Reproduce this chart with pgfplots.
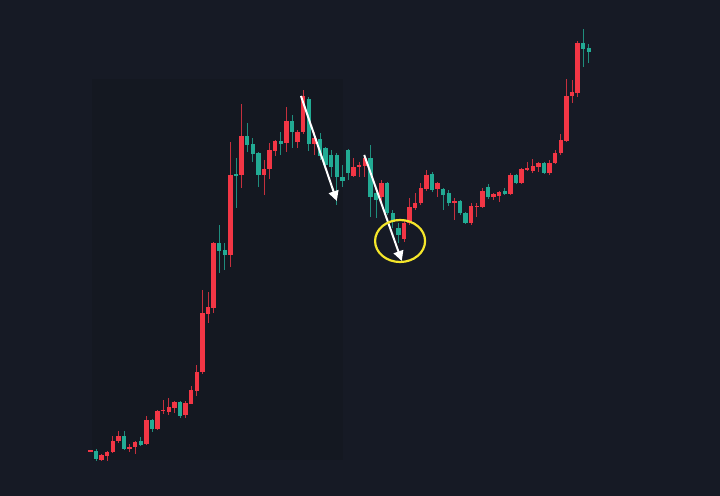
\documentclass[border=0pt]{standalone}
\usepackage{pgfplots}
\usepackage{pgfplotstable}
\pgfplotsset{compat=1.18}
\usetikzlibrary{arrows.meta}

\definecolor{bgc}{HTML}{161A25}
\definecolor{panelc}{HTML}{141821}
\definecolor{upc}{HTML}{F23645}
\definecolor{dnc}{HTML}{22AB94}
\definecolor{hilite}{HTML}{F5E62A}

% candle index, open, high, low, close (price in chart units)
\pgfplotstableread{
i  o   h   l   c
-1 45  46  45  45.8
1  36  42  35  41
2  40  45  35  44
3  44  60  43  55
4  55  65  53  60
6  47  52  44  49
7  49  55  42  54
9  52  80  51  76
11 67  86  66  85
12 85  96  82  86
13 84  98  81  89
14 88  95  83  94
16 81  95  78  93
17 92  110 92  106
18 105 131 100 124
19 124 206 122 183
20 182 204 173 189
21 188 254 183 253
24 241 354 229 321
26 321 392 308 360
30 321 336 301 327
31 327 353 317 346
32 345 356 340 355
34 353 389 344 375
36 354 366 348 364
37 364 406 362 400
39 352 364 341 358
46 320 338 319 329
47 329 334 319 331
48 330 341 319 338
51 299 316 291 313
55 257 276 254 273
56 273 298 271 289
57 288 303 286 293
58 293 313 291 308
59 307 326 305 321
61 307 314 299 313
64 293 298 276 295
67 273 293 271 290
68 289 293 279 290
69 289 308 288 305
71 299 303 296 302
72 300 305 294 304
74 302 323 301 321
76 313 328 312 327
77 326 334 325 328
78 325 337 323 330
79 329 334 324 333
81 323 336 321 333
82 333 346 332 343
83 343 362 341 356
84 355 417 354 400
85 400 416 393 404
86 403 455 399 453
}\upcandles

\pgfplotstableread{
i  o   h   l   c
0  45  47  35  37
5  60  65  46  47
8  55  59  50  51
10 76  77  64  67
15 94  95  78  80
22 253 271 223 245
23 246 253 226 241
25 322 338 288 320
27 360 373 344 351
28 352 358 334 342
29 343 344 309 321
33 355 364 341 352
35 375 381 348 364
38 397 399 345 352
40 357 363 336 340
41 348 349 326 331
42 341 346 319 329
43 341 343 291 319
44 319 331 309 315
45 346 347 316 323
49 338 351 279 299
50 303 305 278 296
52 313 314 281 283
53 283 286 268 274
54 268 273 253 261
60 322 324 304 306
62 307 308 286 301
63 303 306 290 293
65 295 296 281 283
66 283 284 272 273
70 309 312 297 299
73 305 308 301 302
75 321 322 312 313
80 333 334 322 323
87 453 467 429 447
88 448 452 433 444
}\downcandles

\pgfplotsset{
  wick/.style={draw=none, mark=none,
    error bars/.cd, y dir=both, y explicit, error mark=none,
    error bar style={line width=1bp, draw=#1, opacity=0.8}},
  body/.style={draw=none, mark=none,
    error bars/.cd, y dir=both, y explicit, error mark=none,
    error bar style={line width=4.5bp, draw=#1, line cap=butt}},
}

\begin{document}
\begin{tikzpicture}
\fill[bgc] (0,0) rectangle (720bp,496bp);
\useasboundingbox (0,0) rectangle (720bp,496bp);
\fill[panelc] (92bp,36bp) rectangle (343bp,417bp);
\begin{axis}[
  scale only axis,
  width=720bp, height=496bp,
  hide axis,
  xmin=-17.143, xmax=111.43,
  ymin=0, ymax=496,
  clip=false,
]
\addplot[wick=upc] table[x=i, y expr={(\thisrow{h}+\thisrow{l})/2},
  y error expr={(\thisrow{h}-\thisrow{l})/2}] {\upcandles};
\addplot[wick=dnc] table[x=i, y expr={(\thisrow{h}+\thisrow{l})/2},
  y error expr={(\thisrow{h}-\thisrow{l})/2}] {\downcandles};
\addplot[body=upc] table[x=i, y expr={(\thisrow{o}+\thisrow{c})/2},
  y error expr={abs(\thisrow{c}-\thisrow{o})/2}] {\upcandles};
\addplot[body=dnc] table[x=i, y expr={(\thisrow{o}+\thisrow{c})/2},
  y error expr={abs(\thisrow{c}-\thisrow{o})/2}] {\downcandles};

% annotations
\draw[white, line width=2bp, -{Triangle[width=10bp,length=10bp]}]
  (axis cs:36.6,400) -- (axis cs:43.0,295);
\draw[white, line width=2bp, -{Triangle[width=10bp,length=10bp]}]
  (axis cs:47.9,341) -- (axis cs:54.6,235);
\draw[hilite, line width=2.2bp] (axis cs:54.3,255) ellipse [x radius=25bp, y radius=21bp];
\end{axis}
\end{tikzpicture}
\end{document}
